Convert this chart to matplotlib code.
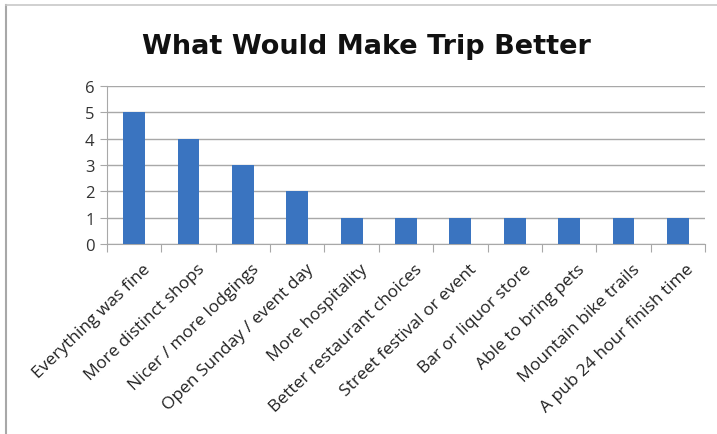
import matplotlib
matplotlib.use("Agg")
import matplotlib.pyplot as plt
from matplotlib.lines import Line2D

categories = [
    "Everything was fine",
    "More distinct shops",
    "Nicer / more lodgings",
    "Open Sunday / event day",
    "More hospitality",
    "Better restaurant choices",
    "Street festival or event",
    "Bar or liquor store",
    "Able to bring pets",
    "Mountain bike trails",
    "A pub 24 hour finish time",
]
counts = [5, 4, 3, 2, 1, 1, 1, 1, 1, 1, 1]
y_ticks = [0, 1, 2, 3, 4, 5, 6]
title = "What Would Make Trip Better"

W, H = 717, 435
fig = plt.figure(figsize=(W / 100, H / 100), dpi=100)
fig.patch.set_facecolor("white")

ax = fig.add_axes([107 / W, 1 - 245 / H, (705 - 107) / W, (245 - 87) / H])
x = list(range(len(categories)))
ax.bar(x, counts, width=0.4, color="#3a74c0", zorder=3)

ax.set_xlim(-0.5, len(categories) - 0.5)
ax.set_ylim(0, 6)
ax.set_yticks(y_ticks)
ax.set_yticklabels([str(v) for v in y_ticks], fontsize=12, family="Open Sans", color="#333333")
ax.yaxis.grid(True, color="#a8a8a8", linewidth=1.0, zorder=0)
ax.tick_params(axis="y", length=5, color="#a8a8a8", pad=4)

# category boundary ticks under the x axis
ax.set_xticks([i - 0.5 for i in range(len(categories) + 1)])
ax.set_xticklabels([])
ax.tick_params(axis="x", length=6, color="#a8a8a8", direction="out")
for i, lab in enumerate(categories):
    ax.annotate(lab, xy=(i, 0), xycoords=("data", "axes fraction"),
                xytext=(6, -12), textcoords="offset points",
                rotation=44, rotation_mode="anchor", ha="right", va="top",
                fontsize=12.5, family="Open Sans", color="#222222")

for side in ("top", "right"):
    ax.spines[side].set_visible(False)
for side in ("left", "bottom"):
    ax.spines[side].set_color("#a8a8a8")

fig.text(366 / W, 1 - 47 / H, title, ha="center", va="center",
         fontsize=19.5, fontweight="bold", family="DejaVu Sans", color="#111111")

# chart frame
fig.add_artist(Line2D([5.5 / W, 5.5 / W], [0, 1 - 5.5 / H], color="#a8a8a8", lw=1.5))
fig.add_artist(Line2D([5.5 / W, 1], [1 - 5.5 / H, 1 - 5.5 / H], color="#c8c8c8", lw=1.2))

fig.savefig("out.png", dpi=100)
